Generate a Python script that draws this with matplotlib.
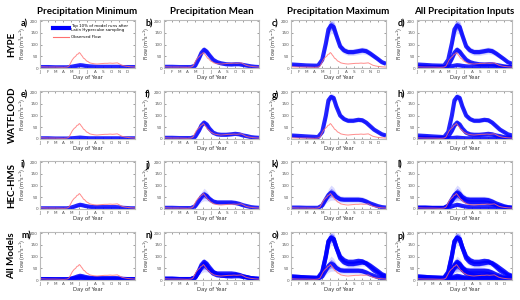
import matplotlib.pyplot as plt
import numpy as np
from matplotlib.lines import Line2D

# day-of-year nodes for the model ensembles
days = [1, 32, 60, 91, 105, 121, 135, 145, 155, 165, 175, 190, 205, 220, 240, 260, 275, 290, 305, 320, 335, 350, 366]

# HYPE (centre of top-10% runs, and half spread)
hype_min = [4, 4, 3, 3, 3, 5, 8, 10, 12, 11, 9, 7, 6, 5, 5, 5, 5, 5, 5, 4, 4, 4, 4]
hype_min_sd = [1, 1, 1, 1, 1, 1, 2, 3, 3, 3, 2, 2, 1, 1, 1, 1, 1, 1, 1, 1, 1, 1, 1]
hype_mean = [5, 5, 4, 4, 4, 10, 40, 65, 78, 70, 55, 35, 25, 20, 16, 15, 16, 16, 13, 10, 7, 5, 4]
hype_mean_sd = [1, 1, 1, 1, 1, 2, 5, 7, 8, 7, 5, 4, 3, 3, 3, 3, 3, 3, 3, 2, 2, 1, 1]
hype_max = [15, 13, 11, 10, 10, 35, 105, 165, 182, 175, 140, 92, 75, 68, 68, 72, 75, 72, 62, 50, 38, 25, 18]
hype_max_sd = [3, 3, 2, 2, 2, 5, 12, 18, 18, 18, 14, 10, 8, 8, 8, 8, 8, 8, 7, 6, 5, 4, 3]

# WATFLOOD
wat_min = [3, 3, 2, 2, 2, 3, 4, 5, 6, 5, 4, 3, 3, 3, 3, 3, 3, 3, 3, 3, 3, 3, 3]
wat_min_sd = [1, 1, 1, 1, 1, 1, 1, 1, 1, 1, 1, 1, 1, 1, 1, 1, 1, 1, 1, 1, 1, 1, 1]
wat_mean = [5, 5, 4, 4, 4, 10, 35, 58, 70, 62, 45, 27, 20, 18, 18, 20, 22, 20, 15, 12, 8, 6, 5]
wat_mean_sd = [1, 1, 1, 1, 1, 2, 4, 5, 6, 5, 4, 3, 3, 3, 3, 3, 3, 3, 2, 2, 1, 1, 1]
wat_max = [15, 13, 11, 9, 8, 30, 100, 165, 180, 175, 140, 100, 85, 78, 78, 82, 80, 70, 55, 40, 30, 20, 15]
wat_max_sd = [3, 3, 2, 2, 2, 4, 8, 9, 9, 9, 8, 6, 5, 5, 5, 5, 5, 5, 4, 4, 3, 3, 3]

# HEC-HMS
hec_min = [3, 3, 3, 3, 3, 6, 11, 15, 18, 16, 13, 10, 8, 8, 8, 8, 8, 8, 7, 5, 4, 3, 3]
hec_min_sd = [1, 1, 1, 1, 1, 2, 3, 4, 5, 4, 3, 3, 2, 2, 2, 2, 2, 2, 2, 1, 1, 1, 1]
hec_mean = [5, 5, 4, 4, 4, 12, 35, 52, 62, 56, 44, 32, 28, 28, 28, 28, 26, 22, 16, 12, 8, 6, 5]
hec_mean_sd = [1, 1, 1, 1, 1, 3, 8, 12, 15, 12, 8, 6, 5, 5, 5, 5, 5, 4, 3, 2, 2, 1, 1]
hec_max = [6, 6, 5, 5, 5, 15, 42, 60, 70, 65, 52, 42, 40, 40, 40, 40, 38, 32, 24, 18, 12, 8, 6]
hec_max_sd = [2, 2, 2, 2, 2, 5, 10, 15, 18, 15, 10, 8, 8, 8, 8, 8, 8, 7, 5, 4, 3, 2, 2]

# observed flow
obs_days = [1, 30, 60, 90, 105, 112, 118, 125, 132, 138, 143, 148, 152, 156, 160, 164, 168, 172,
            176, 180, 186, 192, 200, 210, 220, 230, 240, 250, 260, 270, 280, 290, 298, 305,
            315, 325, 335, 350, 366]
obs_flow = [5, 4, 4, 3, 4, 8, 20, 35, 45, 50, 58, 60, 66, 62, 55, 50, 42, 40,
            35, 30, 27, 22, 20, 18, 17, 18, 19, 20, 20, 21, 20, 21, 22, 18,
            12, 9, 7, 5, 4]

month_days = [1, 32, 60, 91, 121, 152, 182, 213, 244, 274, 305, 335]
month_labels = ["J", "F", "M", "A", "M", "J", "J", "A", "S", "O", "N", "D"]

col_titles = ["Precipitation Minimum", "Precipitation Mean", "Precipitation Maximum",
              "All Precipitation Inputs"]
row_titles = ["HYPE", "WATFLOOD", "HEC-HMS", "All Models"]
letters = "abcdefghijklmnop"

models = [
    [(hype_min, hype_min_sd), (hype_mean, hype_mean_sd), (hype_max, hype_max_sd)],
    [(wat_min, wat_min_sd), (wat_mean, wat_mean_sd), (wat_max, wat_max_sd)],
    [(hec_min, hec_min_sd), (hec_mean, hec_mean_sd), (hec_max, hec_max_sd)],
]

BLUE = "#0000ff"
RED = "#ff6f6f"
HEAD = ["Lato", "DejaVu Sans"]


def draw_ens(ax, centre, spread):
    c = np.asarray(centre, float)
    s = np.asarray(spread, float)
    ax.fill_between(days, c - 1.8 * s, c + 1.8 * s, color=BLUE, alpha=0.14, lw=0)
    ax.fill_between(days, c - s, c + s, color=BLUE, alpha=0.35, lw=0)
    ax.plot(days, c, color=BLUE, lw=3, alpha=0.85, solid_capstyle="butt")


W, H = 520, 300
col_left = [40, 164, 291, 417]
row_top = [20, 91, 161, 232]
aw, ah = 95, 48

fig = plt.figure(figsize=(5.2, 3.0), dpi=100)

for r in range(4):
    for c in range(4):
        ax = fig.add_axes([col_left[c] / W, 1 - (row_top[r] + ah) / H, aw / W, ah / H])
        mods = models if r == 3 else [models[r]]
        precs = [0, 1, 2] if c == 3 else [c]
        for m in mods:
            for p in precs:
                draw_ens(ax, *m[p])
        ax.plot(obs_days, obs_flow, color=RED, lw=0.7, alpha=0.8)

        ax.set_xlim(1, 366)
        ax.set_ylim(0, 205)
        ax.set_xticks(month_days)
        ax.set_xticklabels(month_labels)
        ax.set_yticks([0, 50, 100, 150, 200])
        ax.tick_params(direction="in", top=True, right=True, length=1.5, width=0.4,
                       labelsize=3, colors="#555555", pad=1.5)
        for sp in ax.spines.values():
            sp.set_color("#bbbbbb")
            sp.set_linewidth(0.8)
        ax.set_xlabel("Day of Year", fontsize=3.8, color="#333333", labelpad=1)
        ax.set_ylabel(r"Flow (m$^3$s$^{-1}$)", fontsize=3.5, color="#333333", labelpad=1.5)

        fig.text((col_left[c] - 19) / W, 1 - (row_top[r] + 4) / H, letters[r * 4 + c] + ")",
                 fontsize=6.5, fontweight="bold", family=HEAD, ha="left", va="center")

        if r == 0 and c == 0:
            handles = [Line2D([], [], color=BLUE, lw=3),
                       Line2D([], [], color=RED, lw=0.8)]
            ax.legend(handles, ["Top 10% of model runs after\nLatin Hypercube sampling",
                                "Observed Flow"],
                      loc="upper left", bbox_to_anchor=(0.1, 1.0), fontsize=2.9,
                      frameon=False, handlelength=4, handletextpad=0.5, labelspacing=0.8)

for c in range(4):
    fig.text((col_left[c] + aw / 2) / W, 1 - 12 / H, col_titles[c], fontsize=7,
             fontweight="bold", family=HEAD, ha="center", va="center")

for r in range(4):
    fig.text(12 / W, 1 - (row_top[r] + ah / 2) / H, row_titles[r], fontsize=7,
             fontweight="bold", family=HEAD, rotation=90, ha="center", va="center")

fig.savefig("out.png", dpi=100)
